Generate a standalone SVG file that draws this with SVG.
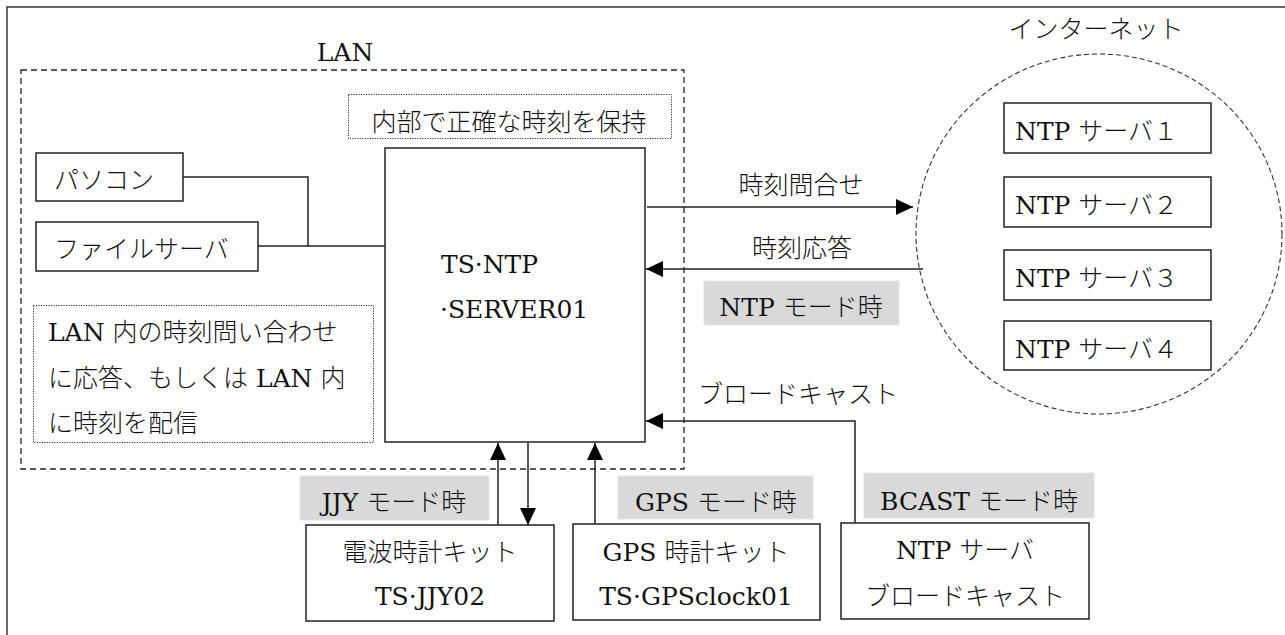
<svg xmlns="http://www.w3.org/2000/svg" width="1285" height="635" viewBox="0 0 1285 635">
<style>
.t{font-family:"DejaVu Serif","Noto Sans CJK JP",serif;font-size:25px;fill:#111;font-weight:300}
.m{text-anchor:middle}
.box{fill:#fff;stroke:#222;stroke-width:1.5}
.dot{fill:none;stroke:#333;stroke-width:1;stroke-dasharray:1.2 1.3}
.dash{fill:none;stroke:#222;stroke-width:1.3;stroke-dasharray:6 4}
.circ{fill:none;stroke:#333;stroke-width:1.1;stroke-dasharray:5 3}
.gray{fill:#d9d9d9;stroke:#e4e4e4;stroke-width:1}
.ln{fill:none;stroke:#222;stroke-width:1.5}
.ar{fill:none;stroke:#222;stroke-width:1.5;marker-end:url(#ah)}
</style>
<defs>
<marker id="ah" viewBox="0 0 17 16" refX="17" refY="8" markerWidth="17" markerHeight="16" markerUnits="userSpaceOnUse" orient="auto">
<path d="M0,0 L17,8 L0,16 Z" fill="#000"/>
</marker>
</defs>
<rect width="1285" height="635" fill="#fff"/>
<g id="frame">
<path d="M7,635 V7 H1285" fill="none" stroke="#333" stroke-width="1.5"/>
</g>
<g id="lan">
<rect class="dash" x="21" y="70" width="663" height="399"/>
<text class="t m" x="345" y="61">LAN</text>
</g>
<g id="internet">
<ellipse class="circ" cx="1099" cy="234" rx="183" ry="180"/>
<text class="t m" x="1096" y="38">インターネット</text>
</g>
<g id="note-keep">
<rect class="dot" x="348.5" y="94.5" width="323" height="44"/>
<text class="t m" x="509" y="131">内部で正確な時刻を保持</text>
</g>
<g id="note-lan">
<rect class="dot" x="33.5" y="305.5" width="340" height="137"/>
<text class="t" x="48" y="341">LAN 内の時刻問い合わせ</text>
<text class="t" x="48" y="387">に応答、もしくは LAN 内</text>
<text class="t" x="48" y="432">に時刻を配信</text>
</g>
<g id="connectors">
<path class="ln" d="M183,177 H308 V246"/>
<path class="ln" d="M258,246 H385"/>
<path class="ar" d="M647,207 H913"/>
<path class="ar" d="M923,269 H646"/>
<path class="ar" d="M855,523 V421 H646"/>
<path class="ar" d="M498,525 V443"/>
<path class="ar" d="M528,443 V525"/>
<path class="ar" d="M595,524 V443"/>
</g>
<g id="pc">
<rect class="box" x="36" y="153" width="147" height="48"/>
<text class="t" x="54" y="189">パソコン</text>
</g>
<g id="fileserver">
<rect class="box" x="36" y="222" width="222" height="49"/>
<text class="t" x="54" y="258">ファイルサーバ</text>
</g>
<g id="server">
<rect class="box" x="385" y="148" width="260" height="294" fill="none"/>
<text class="t" x="441" y="273">TS·NTP</text>
<text class="t" x="440" y="318">·SERVER01</text>
</g>
<g id="label-query">
<text class="t m" x="801" y="194">時刻問合せ</text>
</g>
<g id="label-answer">
<text class="t m" x="802" y="257">時刻応答</text>
</g>
<g id="mode-ntp">
<rect class="gray" x="704" y="281" width="195" height="44"/>
<text class="t m" x="801" y="316">NTP モード時</text>
</g>
<g id="label-bcast">
<text class="t m" x="798" y="403">ブロードキャスト</text>
</g>
<g id="ntp1">
<rect class="box" x="1004" y="103" width="207" height="50"/>
<text class="t" x="1015" y="140">NTP サーバ１</text>
</g>
<g id="ntp2">
<rect class="box" x="1004" y="177" width="207" height="50"/>
<text class="t" x="1015" y="214">NTP サーバ２</text>
</g>
<g id="ntp3">
<rect class="box" x="1004" y="250" width="207" height="50"/>
<text class="t" x="1015" y="287">NTP サーバ３</text>
</g>
<g id="ntp4">
<rect class="box" x="1004" y="321" width="207" height="49"/>
<text class="t" x="1015" y="358">NTP サーバ４</text>
</g>
<g id="mode-jjy">
<rect class="gray" x="300" y="476" width="189" height="44"/>
<text class="t m" x="394" y="511">JJY モード時</text>
</g>
<g id="mode-gps">
<rect class="gray" x="618" y="476" width="195" height="43"/>
<text class="t m" x="716" y="511">GPS モード時</text>
</g>
<g id="mode-bcast">
<rect class="gray" x="864" y="473" width="230" height="45"/>
<text class="t m" x="979" y="510">BCAST モード時</text>
</g>
<g id="jjy">
<rect class="box" x="306" y="525" width="248" height="96"/>
<text class="t m" x="430" y="561">電波時計キット</text>
<text class="t m" x="430" y="605">TS·JJY02</text>
</g>
<g id="gps">
<rect class="box" x="573" y="524" width="247" height="96"/>
<text class="t m" x="696" y="561">GPS 時計キット</text>
<text class="t m" x="696" y="605">TS·GPSclock01</text>
</g>
<g id="bcast-server">
<rect class="box" x="841" y="523" width="248" height="96"/>
<text class="t m" x="965" y="559">NTP サーバ</text>
<text class="t m" x="965" y="605">ブロードキャスト</text>
</g>
</svg>
